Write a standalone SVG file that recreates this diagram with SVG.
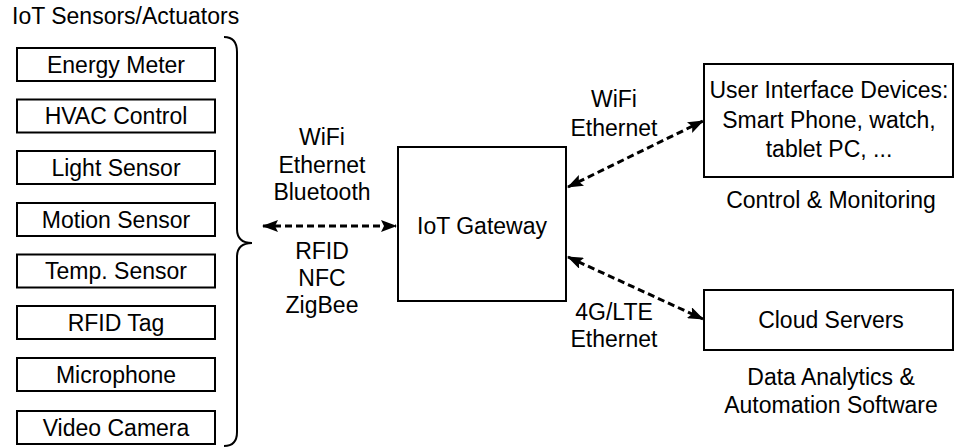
<svg xmlns="http://www.w3.org/2000/svg" width="955" height="448" viewBox="0 0 955 448">
<defs>
<style>
text{font-family:"Liberation Sans",Arial,sans-serif;font-size:23px;fill:#000;text-anchor:middle}
.box{fill:#fff;stroke:#000;stroke-width:2}
.conn{fill:none;stroke:#000;stroke-width:3;stroke-dasharray:7 4}
.brace{fill:none;stroke:#000;stroke-width:2}
</style>
<marker id="ah" viewBox="0 0 16 12" refX="15" refY="6" markerWidth="16" markerHeight="12" markerUnits="userSpaceOnUse" orient="auto-start-reverse">
<path d="M0,0 L16,6 L0,12 L3,6 Z" fill="#000"/>
</marker>
</defs>
<rect width="955" height="448" fill="#fff"/>
<text x="12" y="24" style="text-anchor:start">IoT Sensors/Actuators</text>
<g id="sensors">
<g id="energy-meter"><rect class="box" x="17" y="48" width="198" height="33"/><text x="116" y="72.5">Energy Meter</text></g>
<g id="hvac-control"><rect class="box" x="17" y="99.5" width="198" height="33"/><text x="116" y="124">HVAC Control</text></g>
<g id="light-sensor"><rect class="box" x="17" y="151" width="198" height="33"/><text x="116" y="175.5">Light Sensor</text></g>
<g id="motion-sensor"><rect class="box" x="17" y="203" width="198" height="33"/><text x="116" y="227.5">Motion Sensor</text></g>
<g id="temp-sensor"><rect class="box" x="17" y="254.5" width="198" height="33"/><text x="116" y="279">Temp. Sensor</text></g>
<g id="rfid-tag"><rect class="box" x="17" y="306" width="198" height="33"/><text x="116" y="330.5">RFID Tag</text></g>
<g id="microphone"><rect class="box" x="17" y="358" width="198" height="33"/><text x="116" y="382.5">Microphone</text></g>
<g id="video-camera"><rect class="box" x="17" y="411" width="198" height="33"/><text x="116" y="435.5">Video Camera</text></g>
</g>
<g id="brace-group">
<path class="brace" d="M224 37 Q237 37 237 52 L237 229 Q237 243 252 243 Q237 243 237 257 L237 432 Q237 446 224 446"/>
</g>
<g id="gateway"><rect class="box" x="398" y="147" width="168" height="154"/><text x="482" y="234">IoT Gateway</text></g>
<g id="ui-devices"><rect class="box" x="704" y="64" width="249" height="113"/>
<text x="829" y="98">User Interface Devices:</text>
<text x="829" y="128">Smart Phone, watch,</text>
<text x="829" y="157">tablet PC, ...</text></g>
<text x="831" y="208">Control &amp; Monitoring</text>
<g id="cloud-servers"><rect class="box" x="704" y="290" width="249" height="60"/><text x="831" y="328">Cloud Servers</text></g>
<text x="831" y="385">Data Analytics &amp;</text>
<text x="831" y="413">Automation Software</text>
<g id="connectors">
<path class="conn" d="M263 226 L396 226" marker-start="url(#ah)" marker-end="url(#ah)"/>
<path class="conn" d="M568 187 L703 121" marker-start="url(#ah)" marker-end="url(#ah)"/>
<path class="conn" d="M568 257 L703 319" marker-start="url(#ah)" marker-end="url(#ah)"/>
</g>
<g id="labels">
<text x="322" y="145">WiFi</text>
<text x="322" y="173">Ethernet</text>
<text x="322" y="200">Bluetooth</text>
<text x="322" y="259">RFID</text>
<text x="322" y="286">NFC</text>
<text x="322" y="313">ZigBee</text>
<text x="614" y="107">WiFi</text>
<text x="614" y="136">Ethernet</text>
<text x="614" y="320">4G/LTE</text>
<text x="614" y="347">Ethernet</text>
</g>
</svg>
